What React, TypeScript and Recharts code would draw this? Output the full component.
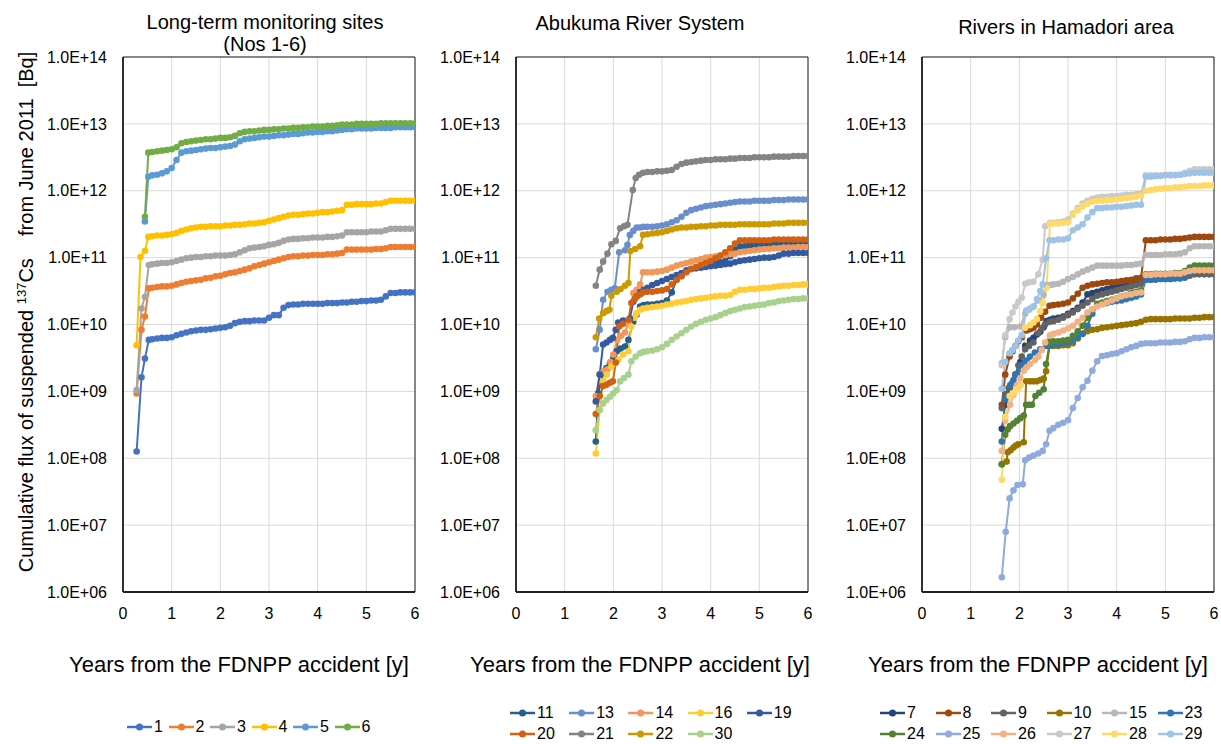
import { CartesianGrid, Line, LineChart, ReferenceArea, XAxis, YAxis } from "recharts"

const FONT = '"Liberation Sans", Arial, sans-serif'
const GRID = "#D9D9D9"
const INK = "#000"

const X_TICKS = [0, 1, 2, 3, 4, 5, 6]
// log10 of flux [Bq]
const Y_TICKS = [6, 7, 8, 9, 10, 11, 12, 13, 14]

// shared time grids [y]
const T1 = [
  0.6, 0.7, 0.8, 0.9, 1.0, 1.1, 1.2, 1.3, 1.4, 1.5, 1.6, 1.7, 1.8, 1.9, 2.0, 2.1, 2.2, 2.3, 2.4, 2.5,
  2.6, 2.7, 2.8, 2.9, 3.0, 3.1, 3.2, 3.3, 3.4, 3.5, 3.6, 3.7, 3.8, 3.9, 4.0, 4.1, 4.2, 4.3, 4.4, 4.5,
  4.6, 4.7, 4.8, 4.9, 5.0, 5.1, 5.2, 5.3, 5.4, 5.5, 5.6, 5.7, 5.8, 5.9, 6.0,
]
const T2 = [
  2.7, 2.8, 2.9, 3.0, 3.1, 3.2, 3.3, 3.4, 3.5, 3.6, 3.7, 3.8, 3.9, 4.0, 4.1, 4.2, 4.3, 4.4, 4.5, 4.6,
  4.7, 4.8, 4.9, 5.0, 5.1, 5.2, 5.3, 5.4, 5.5, 5.6, 5.7, 5.8, 5.9, 6.0,
]

// ---- long-term monitoring sites (1-6)
const early1 = [[0.28, 8.1], [0.38, 9.21], [0.45, 9.49], [0.53, 9.77]]
const late1 = [9.78, 9.79, 9.8, 9.8, 9.81, 9.84, 9.86, 9.88, 9.9, 9.91, 9.92, 9.92, 9.93, 9.94, 9.95, 9.96, 9.98, 10.02, 10.04, 10.05, 10.05, 10.06, 10.06, 10.06, 10.1, 10.14, 10.14, 10.25, 10.29, 10.3, 10.3, 10.31, 10.31, 10.31, 10.31, 10.31, 10.32, 10.32, 10.32, 10.33, 10.33, 10.34, 10.34, 10.35, 10.35, 10.36, 10.36, 10.37, 10.42, 10.47, 10.47, 10.48, 10.48, 10.48, 10.48]
const early2 = [[0.28, 8.97], [0.38, 9.92], [0.45, 10.12], [0.53, 10.54]]
const late2 = [10.55, 10.56, 10.57, 10.57, 10.58, 10.6, 10.62, 10.64, 10.65, 10.66, 10.67, 10.69, 10.7, 10.72, 10.73, 10.75, 10.77, 10.78, 10.8, 10.82, 10.84, 10.87, 10.89, 10.91, 10.93, 10.95, 10.97, 10.99, 11.01, 11.02, 11.02, 11.03, 11.03, 11.04, 11.04, 11.04, 11.05, 11.05, 11.06, 11.07, 11.12, 11.12, 11.12, 11.12, 11.12, 11.12, 11.13, 11.13, 11.14, 11.16, 11.16, 11.16, 11.16, 11.16, 11.16]
const early3 = [[0.28, 9.02], [0.38, 10.24], [0.45, 10.41], [0.53, 10.89]]
const late3 = [10.9, 10.91, 10.92, 10.92, 10.93, 10.95, 10.97, 10.99, 11.0, 11.01, 11.01, 11.02, 11.02, 11.03, 11.03, 11.03, 11.04, 11.05, 11.08, 11.11, 11.14, 11.15, 11.16, 11.17, 11.19, 11.2, 11.22, 11.25, 11.27, 11.28, 11.28, 11.29, 11.29, 11.3, 11.3, 11.3, 11.31, 11.31, 11.32, 11.33, 11.38, 11.38, 11.38, 11.38, 11.38, 11.39, 11.39, 11.39, 11.41, 11.43, 11.43, 11.43, 11.43, 11.43, 11.43]
const early4 = [[0.28, 9.69], [0.36, 11.01], [0.45, 11.1], [0.52, 11.31]]
const late4 = [11.32, 11.33, 11.33, 11.34, 11.35, 11.37, 11.4, 11.42, 11.44, 11.45, 11.46, 11.46, 11.47, 11.47, 11.47, 11.48, 11.48, 11.49, 11.49, 11.5, 11.51, 11.51, 11.52, 11.53, 11.55, 11.57, 11.59, 11.61, 11.63, 11.64, 11.64, 11.65, 11.66, 11.66, 11.67, 11.68, 11.68, 11.69, 11.7, 11.71, 11.79, 11.79, 11.8, 11.8, 11.8, 11.8, 11.81, 11.81, 11.83, 11.85, 11.85, 11.85, 11.85, 11.85, 11.85]
const early5 = [[0.45, 11.54], [0.52, 12.21]]
const late5 = [12.23, 12.24, 12.26, 12.29, 12.34, 12.46, 12.57, 12.59, 12.6, 12.61, 12.62, 12.63, 12.64, 12.64, 12.65, 12.66, 12.67, 12.69, 12.74, 12.77, 12.78, 12.79, 12.8, 12.81, 12.81, 12.82, 12.83, 12.83, 12.84, 12.85, 12.85, 12.86, 12.87, 12.87, 12.88, 12.88, 12.89, 12.89, 12.9, 12.91, 12.92, 12.92, 12.93, 12.93, 12.93, 12.93, 12.94, 12.94, 12.94, 12.94, 12.95, 12.95, 12.95, 12.95, 12.95]
const early6 = [[0.45, 11.61], [0.52, 12.57]]
const late6 = [12.58, 12.59, 12.6, 12.61, 12.62, 12.65, 12.71, 12.73, 12.74, 12.75, 12.76, 12.77, 12.77, 12.78, 12.79, 12.79, 12.8, 12.82, 12.86, 12.88, 12.89, 12.89, 12.9, 12.91, 12.91, 12.92, 12.92, 12.93, 12.93, 12.94, 12.94, 12.95, 12.95, 12.96, 12.96, 12.96, 12.97, 12.97, 12.98, 12.99, 12.99, 12.99, 13.0, 13.0, 13.0, 13.0, 13.0, 13.01, 13.01, 13.01, 13.01, 13.01, 13.01, 13.01, 13.01]

// ---- Abukuma River System
const early11 = [[1.64, 8.25], [1.69, 8.97], [1.79, 9.27], [1.86, 9.35], [1.93, 9.42], [2.0, 9.5], [2.07, 9.6], [2.15, 9.64], [2.24, 9.67], [2.31, 9.77], [2.41, 10.04], [2.48, 10.15], [2.55, 10.27], [2.62, 10.29]]
const late11 = [10.3, 10.3, 10.31, 10.32, 10.36, 10.48, 10.67, 10.73, 10.79, 10.83, 10.85, 10.87, 10.89, 10.9, 10.92, 10.93, 10.95, 11.02, 11.12, 11.17, 11.17, 11.18, 11.18, 11.19, 11.19, 11.2, 11.2, 11.2, 11.21, 11.21, 11.21, 11.22, 11.22, 11.22]
const early13 = [[1.64, 9.63], [1.72, 9.92], [1.79, 10.37], [1.88, 10.49], [1.96, 10.52], [2.03, 10.54], [2.12, 11.08], [2.24, 11.11], [2.29, 11.19], [2.34, 11.34], [2.41, 11.4], [2.48, 11.45], [2.55, 11.45], [2.62, 11.46]]
const late13 = [11.46, 11.46, 11.47, 11.48, 11.5, 11.53, 11.56, 11.61, 11.67, 11.71, 11.73, 11.75, 11.77, 11.78, 11.79, 11.8, 11.81, 11.82, 11.83, 11.84, 11.84, 11.84, 11.85, 11.85, 11.85, 11.85, 11.86, 11.86, 11.86, 11.87, 11.87, 11.87, 11.87, 11.87]
const early14 = [[1.64, 8.93], [1.72, 9.26], [1.8, 9.3], [1.88, 9.33], [1.94, 9.44], [2.0, 9.55], [2.08, 9.77], [2.16, 9.83], [2.24, 9.88], [2.32, 10.05], [2.41, 10.47], [2.48, 10.52], [2.55, 10.6], [2.61, 10.78]]
const late14 = [10.78, 10.78, 10.79, 10.8, 10.82, 10.85, 10.88, 10.9, 10.92, 10.94, 10.96, 10.98, 11.0, 11.01, 11.02, 11.03, 11.04, 11.05, 11.06, 11.08, 11.09, 11.1, 11.11, 11.12, 11.13, 11.13, 11.14, 11.14, 11.15, 11.15, 11.15, 11.16, 11.16, 11.16]
const early16 = [[1.64, 8.07], [1.72, 8.72], [1.79, 9.15], [1.87, 9.25], [1.96, 9.37], [2.03, 9.42], [2.1, 9.47], [2.2, 9.55], [2.31, 9.6], [2.37, 9.97], [2.44, 10.1], [2.48, 10.17], [2.55, 10.22], [2.61, 10.24]]
const late16 = [10.25, 10.26, 10.27, 10.28, 10.3, 10.31, 10.33, 10.34, 10.35, 10.37, 10.38, 10.39, 10.4, 10.41, 10.42, 10.43, 10.43, 10.44, 10.49, 10.52, 10.52, 10.53, 10.53, 10.54, 10.55, 10.55, 10.56, 10.57, 10.58, 10.58, 10.59, 10.59, 10.6, 10.6]
const early19 = [[1.64, 8.85], [1.72, 9.25], [1.79, 9.7], [1.86, 9.73], [1.93, 9.77], [1.99, 9.8], [2.05, 9.92], [2.1, 10.03], [2.2, 10.06], [2.34, 10.09], [2.41, 10.34], [2.48, 10.42], [2.55, 10.48], [2.62, 10.52]]
const late19 = [10.55, 10.59, 10.62, 10.65, 10.68, 10.71, 10.74, 10.77, 10.81, 10.83, 10.84, 10.85, 10.86, 10.87, 10.88, 10.89, 10.9, 10.91, 10.93, 10.95, 10.96, 10.97, 10.98, 10.99, 11.0, 11.0, 11.01, 11.03, 11.06, 11.06, 11.07, 11.07, 11.07, 11.07]
const early20 = [[1.64, 8.66], [1.72, 8.93], [1.79, 9.08], [1.86, 9.1], [1.93, 9.13], [1.99, 9.15], [2.05, 9.43], [2.12, 9.97], [2.2, 10.01], [2.31, 10.07], [2.37, 10.32], [2.44, 10.38], [2.48, 10.42], [2.55, 10.45], [2.61, 10.48]]
const late20 = [10.49, 10.49, 10.5, 10.51, 10.53, 10.6, 10.67, 10.72, 10.78, 10.83, 10.86, 10.89, 10.92, 10.95, 10.99, 11.03, 11.08, 11.14, 11.21, 11.26, 11.26, 11.26, 11.26, 11.26, 11.26, 11.26, 11.27, 11.27, 11.27, 11.27, 11.27, 11.27, 11.27, 11.27]
const early21 = [[1.64, 10.58], [1.72, 10.82], [1.79, 10.94], [1.88, 11.06], [1.96, 11.2], [2.05, 11.25], [2.14, 11.44], [2.22, 11.47], [2.29, 11.49], [2.4, 12.01], [2.46, 12.19], [2.53, 12.24], [2.61, 12.27]]
const late21 = [12.28, 12.28, 12.29, 12.29, 12.3, 12.31, 12.36, 12.4, 12.42, 12.43, 12.44, 12.45, 12.46, 12.46, 12.47, 12.47, 12.47, 12.48, 12.48, 12.49, 12.49, 12.49, 12.5, 12.5, 12.5, 12.5, 12.51, 12.51, 12.51, 12.51, 12.52, 12.52, 12.52, 12.52]
const early22 = [[1.64, 9.81], [1.71, 10.09], [1.79, 10.17], [1.86, 10.2], [1.92, 10.22], [1.96, 10.43], [2.07, 10.49], [2.15, 10.53], [2.24, 10.58], [2.31, 10.62], [2.35, 11.1], [2.45, 11.13], [2.55, 11.17], [2.61, 11.34]]
const late22 = [11.35, 11.36, 11.37, 11.38, 11.4, 11.42, 11.44, 11.45, 11.45, 11.46, 11.46, 11.47, 11.47, 11.48, 11.48, 11.49, 11.49, 11.49, 11.49, 11.5, 11.5, 11.5, 11.5, 11.5, 11.5, 11.5, 11.51, 11.51, 11.51, 11.52, 11.52, 11.52, 11.52, 11.52]
const early30 = [[1.64, 8.42], [1.72, 8.72], [1.79, 8.82], [1.86, 8.87], [1.93, 8.92], [2.0, 8.97], [2.07, 9.02], [2.14, 9.15], [2.22, 9.2], [2.31, 9.25], [2.37, 9.45], [2.46, 9.52], [2.55, 9.57], [2.62, 9.59]]
const late30 = [9.6, 9.61, 9.63, 9.66, 9.71, 9.77, 9.82, 9.87, 9.92, 9.97, 10.01, 10.04, 10.07, 10.09, 10.11, 10.14, 10.17, 10.2, 10.22, 10.24, 10.26, 10.27, 10.28, 10.29, 10.3, 10.32, 10.33, 10.35, 10.36, 10.37, 10.38, 10.38, 10.39, 10.39]

// ---- Rivers in Hamadori area
const early7 = [[1.64, 8.44], [1.71, 8.8], [1.81, 9.04], [1.92, 9.25], [2.02, 9.44], [2.12, 9.68], [2.22, 9.76], [2.29, 9.8], [2.36, 9.85], [2.43, 9.89], [2.5, 9.96], [2.56, 10.05], [2.63, 10.07]]
const late7 = [10.09, 10.1, 10.12, 10.16, 10.2, 10.25, 10.33, 10.45, 10.47, 10.49, 10.51, 10.53, 10.55, 10.56, 10.57, 10.58, 10.6, 10.61, 10.62, 10.72, 10.72, 10.73, 10.73, 10.74, 10.74, 10.75, 10.75, 10.77, 10.8, 10.83, 10.83, 10.83, 10.83, 10.83]
const early8 = [[1.64, 8.8], [1.71, 9.25], [1.8, 9.52], [1.86, 9.6], [1.92, 9.68], [1.98, 9.75], [2.05, 9.81], [2.15, 9.91], [2.22, 9.93], [2.29, 9.95], [2.36, 10.0], [2.45, 10.1], [2.53, 10.19], [2.62, 10.28]]
const late8 = [10.29, 10.3, 10.31, 10.33, 10.39, 10.46, 10.55, 10.58, 10.6, 10.61, 10.62, 10.63, 10.63, 10.64, 10.65, 10.66, 10.67, 10.69, 10.7, 11.26, 11.26, 11.26, 11.27, 11.27, 11.27, 11.28, 11.28, 11.29, 11.3, 11.31, 11.31, 11.31, 11.31, 11.31]
const early9 = [[1.64, 8.75], [1.71, 8.96], [1.78, 9.05], [1.85, 9.12], [1.92, 9.25], [1.98, 9.39], [2.05, 9.52], [2.12, 9.63], [2.2, 9.68], [2.29, 9.73], [2.39, 9.87], [2.46, 9.94], [2.53, 10.0], [2.62, 10.04]]
const late9 = [10.05, 10.07, 10.1, 10.14, 10.18, 10.23, 10.28, 10.33, 10.38, 10.43, 10.45, 10.47, 10.49, 10.51, 10.53, 10.55, 10.57, 10.59, 10.61, 10.67, 10.67, 10.67, 10.68, 10.68, 10.68, 10.69, 10.69, 10.7, 10.73, 10.75, 10.75, 10.75, 10.75, 10.75]
const early10 = [[1.64, 7.91], [1.74, 7.95], [1.76, 8.09], [1.82, 8.12], [1.88, 8.16], [1.93, 8.19], [1.98, 8.21], [2.09, 8.24], [2.14, 9.15], [2.22, 9.15], [2.29, 9.15], [2.36, 9.15], [2.43, 9.17], [2.5, 9.19], [2.55, 9.3], [2.62, 9.68]]
const late10 = [9.68, 9.68, 9.69, 9.69, 9.72, 9.79, 9.86, 9.9, 9.92, 9.93, 9.95, 9.96, 9.97, 9.98, 9.99, 10.0, 10.01, 10.02, 10.04, 10.07, 10.08, 10.08, 10.08, 10.08, 10.08, 10.09, 10.09, 10.09, 10.09, 10.1, 10.1, 10.11, 10.11, 10.11]
const early15 = [[1.64, 9.42], [1.71, 9.81], [1.81, 9.96], [1.9, 9.96], [2.02, 9.97], [2.12, 10.16], [2.2, 10.22], [2.29, 10.27], [2.4, 10.36], [2.5, 10.44], [2.56, 10.59], [2.63, 10.59]]
const late15 = [10.6, 10.61, 10.64, 10.68, 10.71, 10.75, 10.79, 10.82, 10.85, 10.88, 10.88, 10.88, 10.88, 10.88, 10.88, 10.89, 10.89, 10.9, 10.91, 11.04, 11.04, 11.04, 11.04, 11.05, 11.05, 11.05, 11.06, 11.08, 11.14, 11.17, 11.17, 11.17, 11.17, 11.17]
const early23 = [[1.64, 8.25], [1.71, 8.88], [1.81, 9.09], [1.88, 9.17], [1.95, 9.25], [2.02, 9.33], [2.09, 9.41], [2.15, 9.46], [2.22, 9.52], [2.32, 9.58], [2.43, 9.63], [2.56, 9.68], [2.63, 9.69]]
const late23 = [9.7, 9.71, 9.72, 9.73, 9.76, 9.81, 9.86, 9.98, 10.16, 10.29, 10.31, 10.32, 10.34, 10.35, 10.36, 10.38, 10.4, 10.42, 10.45, 10.67, 10.67, 10.68, 10.68, 10.68, 10.68, 10.69, 10.69, 10.72, 10.77, 10.8, 10.8, 10.81, 10.81, 10.81]
const early24 = [[1.64, 7.91], [1.71, 8.35], [1.76, 8.43], [1.81, 8.48], [1.88, 8.52], [1.95, 8.56], [2.02, 8.6], [2.09, 8.64], [2.14, 8.8], [2.2, 8.8], [2.26, 8.8], [2.33, 8.93], [2.41, 8.98], [2.5, 9.03], [2.55, 9.41], [2.63, 9.74]]
const late24 = [9.75, 9.75, 9.76, 9.77, 9.83, 9.9, 9.98, 10.1, 10.22, 10.31, 10.33, 10.35, 10.37, 10.39, 10.42, 10.44, 10.47, 10.49, 10.51, 10.75, 10.75, 10.76, 10.76, 10.76, 10.76, 10.77, 10.77, 10.8, 10.85, 10.88, 10.88, 10.88, 10.88, 10.88]
const early25 = [[1.64, 6.22], [1.72, 6.9], [1.8, 7.4], [1.88, 7.52], [1.96, 7.6], [2.07, 7.61], [2.12, 7.97], [2.2, 8.01], [2.29, 8.04], [2.39, 8.07], [2.48, 8.11], [2.55, 8.21], [2.62, 8.41]]
const late25 = [8.45, 8.5, 8.53, 8.57, 8.75, 8.9, 9.06, 9.16, 9.31, 9.45, 9.53, 9.54, 9.56, 9.57, 9.6, 9.63, 9.66, 9.68, 9.71, 9.72, 9.72, 9.72, 9.73, 9.73, 9.73, 9.74, 9.74, 9.75, 9.78, 9.8, 9.8, 9.81, 9.81, 9.81]
const early26 = [[1.64, 8.11], [1.71, 8.56], [1.81, 8.8], [1.88, 8.95], [1.95, 9.09], [2.02, 9.2], [2.09, 9.31], [2.15, 9.36], [2.22, 9.41], [2.32, 9.47], [2.39, 9.52], [2.46, 9.62], [2.53, 9.73], [2.63, 9.84]]
const late26 = [9.86, 9.88, 9.91, 9.94, 9.98, 10.04, 10.1, 10.18, 10.23, 10.27, 10.3, 10.33, 10.36, 10.39, 10.42, 10.44, 10.45, 10.47, 10.48, 10.74, 10.74, 10.75, 10.75, 10.75, 10.76, 10.76, 10.76, 10.78, 10.8, 10.81, 10.81, 10.81, 10.81, 10.81]
const early27 = [[1.64, 9.39], [1.71, 9.84], [1.8, 10.08], [1.86, 10.18], [1.92, 10.27], [1.98, 10.34], [2.05, 10.4], [2.12, 10.61], [2.2, 10.63], [2.29, 10.64], [2.39, 10.75], [2.48, 10.97], [2.53, 11.47], [2.63, 11.52]]
const late27 = [11.52, 11.53, 11.54, 11.57, 11.66, 11.74, 11.81, 11.85, 11.88, 11.9, 11.91, 11.91, 11.92, 11.92, 11.93, 11.94, 11.94, 11.95, 11.96, 12.23, 12.23, 12.23, 12.23, 12.24, 12.24, 12.24, 12.24, 12.27, 12.3, 12.32, 12.32, 12.32, 12.32, 12.32]
const early28 = [[1.64, 7.68], [1.71, 8.62], [1.8, 8.93], [1.86, 8.97], [1.92, 9.01], [1.98, 9.05], [2.03, 9.09], [2.12, 9.95], [2.22, 9.99], [2.29, 10.03], [2.36, 10.08], [2.43, 10.2], [2.48, 10.32], [2.56, 10.55], [2.63, 11.51]]
const late28 = [11.51, 11.51, 11.52, 11.53, 11.64, 11.71, 11.77, 11.81, 11.84, 11.85, 11.85, 11.86, 11.86, 11.87, 11.88, 11.89, 11.9, 11.91, 11.93, 12.0, 12.01, 12.02, 12.03, 12.04, 12.04, 12.05, 12.05, 12.06, 12.07, 12.07, 12.07, 12.08, 12.08, 12.08]
const early29 = [[1.64, 9.04], [1.71, 9.44], [1.8, 9.57], [1.86, 9.62], [1.92, 9.68], [1.98, 9.76], [2.05, 9.84], [2.14, 10.21], [2.22, 10.24], [2.29, 10.27], [2.36, 10.38], [2.43, 10.5], [2.48, 10.6], [2.55, 10.99], [2.62, 11.26]]
const late29 = [11.26, 11.27, 11.27, 11.29, 11.41, 11.45, 11.5, 11.6, 11.68, 11.74, 11.74, 11.75, 11.75, 11.76, 11.76, 11.77, 11.78, 11.79, 11.79, 12.21, 12.21, 12.22, 12.22, 12.23, 12.23, 12.23, 12.24, 12.25, 12.26, 12.27, 12.27, 12.27, 12.27, 12.27]

type Pt = { x: number; y: number }
type Series = { name: string; color: string; data: Pt[] }

const pts = (early: number[][], grid: number[], late: number[]): Pt[] => [
  ...early.map(([x, y]) => ({ x, y })),
  ...late.map((y, i) => ({ x: grid[i], y })),
]

const panel1: Series[] = [
  { name: "1", color: "#4472C4", data: pts(early1, T1, late1) },
  { name: "2", color: "#ED7D31", data: pts(early2, T1, late2) },
  { name: "3", color: "#A5A5A5", data: pts(early3, T1, late3) },
  { name: "4", color: "#FFC000", data: pts(early4, T1, late4) },
  { name: "5", color: "#5B9BD5", data: pts(early5, T1, late5) },
  { name: "6", color: "#70AD47", data: pts(early6, T1, late6) },
]

const panel2: Series[] = [
  { name: "11", color: "#255E91", data: pts(early11, T2, late11) },
  { name: "13", color: "#698ED0", data: pts(early13, T2, late13) },
  { name: "14", color: "#F1975A", data: pts(early14, T2, late14) },
  { name: "16", color: "#FFCD33", data: pts(early16, T2, late16) },
  { name: "19", color: "#335AA1", data: pts(early19, T2, late19) },
  { name: "20", color: "#D26012", data: pts(early20, T2, late20) },
  { name: "21", color: "#848484", data: pts(early21, T2, late21) },
  { name: "22", color: "#CC9A00", data: pts(early22, T2, late22) },
  { name: "30", color: "#A9D18E", data: pts(early30, T2, late30) },
]

const panel3: Series[] = [
  { name: "7", color: "#264478", data: pts(early7, T2, late7) },
  { name: "8", color: "#9E480E", data: pts(early8, T2, late8) },
  { name: "9", color: "#636363", data: pts(early9, T2, late9) },
  { name: "10", color: "#997300", data: pts(early10, T2, late10) },
  { name: "15", color: "#B7B7B7", data: pts(early15, T2, late15) },
  { name: "23", color: "#2E75B6", data: pts(early23, T2, late23) },
  { name: "24", color: "#548235", data: pts(early24, T2, late24) },
  { name: "25", color: "#8FAADC", data: pts(early25, T2, late25) },
  { name: "26", color: "#F4B183", data: pts(early26, T2, late26) },
  { name: "27", color: "#C9C9C9", data: pts(early27, T2, late27) },
  { name: "28", color: "#FFD966", data: pts(early28, T2, late28) },
  { name: "29", color: "#9DC3E6", data: pts(early29, T2, late29) },
]

const sci = (v: number) => `1.0E+${v < 10 ? "0" + v : v}`

function Panel({ left, width, plotLeft, plotRight, series }: {
  left: number
  width: number
  plotLeft: number
  plotRight: number
  series: Series[]
}) {
  const axisH = 30
  return (
    <div style={{ position: "absolute", left, top: 0 }}>
      <LineChart
        width={width}
        height={744}
        margin={{ top: 57, bottom: 152 - axisH, left: 0, right: left + width - plotRight }}
      >
        <CartesianGrid stroke={GRID} strokeWidth={1} />
        <XAxis
          type="number"
          dataKey="x"
          domain={[0, 6]}
          ticks={X_TICKS}
          allowDataOverflow
          height={axisH}
          tickLine={false}
          tickSize={0}
          tickMargin={16}
          axisLine={{ stroke: INK, strokeWidth: 1.3 }}
          tick={{ fill: INK, fontSize: 16, fontFamily: FONT }}
        />
        <YAxis
          type="number"
          domain={[6, 14]}
          ticks={Y_TICKS}
          allowDataOverflow
          width={plotLeft - left}
          tickLine={false}
          tickSize={0}
          tickMargin={16}
          tickFormatter={sci}
          axisLine={{ stroke: INK, strokeWidth: 1.3 }}
          tick={{ fill: INK, fontSize: 16, fontFamily: FONT }}
        />
        <ReferenceArea x1={0} x2={6} y1={6} y2={14} fill="none" stroke="#222" strokeWidth={1} ifOverflow="visible" />
        {series.map((s) => (
          <Line
            key={s.name}
            name={s.name}
            data={s.data}
            dataKey="y"
            type="linear"
            stroke={s.color}
            strokeWidth={2}
            dot={{ r: 3.3, fill: s.color, stroke: s.color, strokeWidth: 0 }}
            activeDot={false}
            isAnimationActive={false}
          />
        ))}
      </LineChart>
    </div>
  )
}

function LegendItem({ x, y, s }: { x: number; y: number; s: Series }) {
  return (
    <div style={{ position: "absolute", left: x, top: y - 9, height: 18, lineHeight: "18px", display: "flex", alignItems: "center", whiteSpace: "nowrap" }}>
      <svg width={26} height={10}>
        <line x1={0} y1={5} x2={25} y2={5} stroke={s.color} strokeWidth={2.5} />
        <circle cx={12.5} cy={5} r={3.5} fill={s.color} />
      </svg>
      <span style={{ fontSize: 16, marginLeft: 1, color: INK }}>{s.name}</span>
    </div>
  )
}

function Legend({ items, x0, step, rows, perRow }: { items: Series[]; x0: number; step: number; rows: number[]; perRow: number }) {
  return (
    <>
      {items.map((s, i) => (
        <LegendItem key={s.name} x={x0 + (i % perRow) * step} y={rows[Math.floor(i / perRow)]} s={s} />
      ))}
    </>
  )
}

function Text({ cx, top, size, children, lh }: { cx: number; top: number; size: number; children: React.ReactNode; lh?: number }) {
  return (
    <div style={{ position: "absolute", left: cx - 250, top, width: 500, textAlign: "center", fontSize: size, lineHeight: `${lh ?? size + 4}px`, color: INK, whiteSpace: "pre" }}>
      {children}
    </div>
  )
}

export default function App() {
  const xTitle = "Years from the FDNPP accident [y]"
  return (
    <div style={{ position: "absolute", left: 0, top: 0, width: 1221, height: 744, background: "#fff", overflow: "hidden", fontFamily: FONT }}>
      <Panel left={0} width={430} plotLeft={123} plotRight={415} series={panel1} />
      <Panel left={430} width={410} plotLeft={516} plotRight={808} series={panel2} />
      <Panel left={840} width={381} plotLeft={922} plotRight={1214} series={panel3} />

      <Text cx={265} top={11} size={20} lh={22}>{"Long-term monitoring sites\n(Nos 1-6)"}</Text>
      <Text cx={640} top={12} size={20} lh={22}>Abukuma River System</Text>
      <Text cx={1066} top={16} size={20} lh={22}>Rivers in Hamadori area</Text>

      <Text cx={239} top={652} size={22} lh={26}>{xTitle}</Text>
      <Text cx={640} top={652} size={22} lh={26}>{xTitle}</Text>
      <Text cx={1038} top={652} size={22} lh={26}>{xTitle}</Text>

      <div
        style={{
          position: "absolute",
          left: 22 - 300,
          top: 312 - 13,
          width: 600,
          height: 26,
          lineHeight: "26px",
          fontSize: 20,
          textAlign: "center",
          whiteSpace: "pre",
          color: INK,
          transform: "rotate(-90deg)",
        }}
      >
        {"Cumulative flux of suspended "}
        <span style={{ fontSize: 13, verticalAlign: 7 }}>137</span>
        {"Cs    from June 2011  [Bq]"}
      </div>

      <Legend items={panel1} x0={127} step={41.5} rows={[727]} perRow={6} />
      <Legend items={panel2} x0={510} step={59.2} rows={[713, 734]} perRow={5} />
      <Legend items={panel3} x0={880} step={55.5} rows={[713, 734]} perRow={6} />
    </div>
  )
}
